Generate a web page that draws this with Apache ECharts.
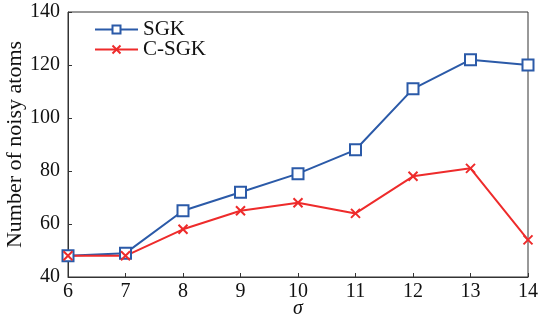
<!DOCTYPE html>
<html><head><meta charset="utf-8">
<script src="https://cdn.jsdelivr.net/npm/echarts@6/dist/echarts.min.js"></script>
<style>html,body{margin:0;padding:0;background:#fff}#c{width:541px;height:325px}</style>
</head><body><div id="c"></div>
<script>
var sigma = [6, 7, 8, 9, 10, 11, 12, 13, 14];
var sgk = [48, 49, 65, 72, 79, 88, 111, 122, 120];
var csgk = [48, 48, 58, 65, 68, 64, 78, 81, 54];
var FONT = 'Liberation Serif';
function pairs(v){ return sigma.map(function(s,i){return [s, v[i]];}); }
var chart = echarts.init(document.getElementById('c'));
chart.setOption({
  animation: false,
  grid: {left: 68, right: 13, top: 12, bottom: 48, show: true, borderColor: '#333', borderWidth: 1,
         outerBoundsMode: 'none', containLabel: false},
  legend: {
    left: 94, top: 19, padding: 0, orient: 'vertical', itemGap: -1, itemWidth: 43, itemHeight: 10,
    textStyle: {fontFamily: FONT, fontSize: 21, color: '#111'},
    data: ['SGK', 'C-SGK']
  },
  xAxis: {
    type: 'value', min: 6, max: 14, interval: 1,
    name: 'σ', nameLocation: 'middle', nameGap: 22, nameMoveOverlap: false,
    nameTextStyle: {fontFamily: FONT, fontSize: 20, fontStyle: 'italic', color: '#111'},
    axisLine: {lineStyle: {color: '#333', width: 1}},
    axisTick: {inside: true, length: 4, lineStyle: {color: '#333'}},
    axisLabel: {fontFamily: FONT, fontSize: 20, color: '#111', margin: 5},
    splitLine: {show: false}
  },
  yAxis: {
    type: 'value', min: 40, max: 140, interval: 20,
    name: 'Number of noisy atoms', nameLocation: 'middle', nameGap: 42, nameMoveOverlap: false,
    nameTextStyle: {fontFamily: FONT, fontSize: 22, color: '#111'},
    axisLine: {show: true, lineStyle: {color: '#333', width: 1}},
    axisTick: {show: true, inside: true, length: 4, lineStyle: {color: '#333'}},
    axisLabel: {fontFamily: FONT, fontSize: 20, color: '#111', margin: 8},
    splitLine: {show: false}
  },
  series: [
    {name: 'SGK', type: 'line', data: pairs(sgk), symbol: 'rect', symbolSize: 11,
     lineStyle: {color: '#2b5aa8', width: 2}, itemStyle: {color: '#fff', borderColor: '#2b5aa8', borderWidth: 2}},
    {name: 'C-SGK', type: 'line', data: pairs(csgk),
     symbol: 'path://M0,0L10,10M10,0L0,10', symbolSize: 9,
     lineStyle: {color: '#ee2b2b', width: 2}, itemStyle: {color: '#ee2b2b', borderColor: '#ee2b2b', borderWidth: 2}}
  ]
});
</script></body></html>
